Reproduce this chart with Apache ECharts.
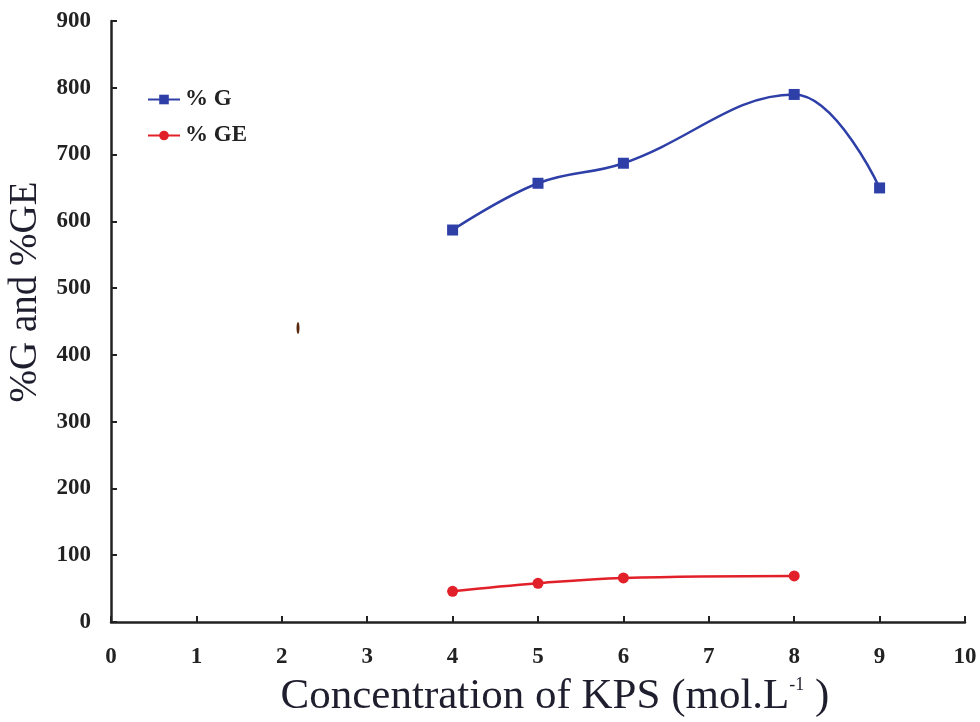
<!DOCTYPE html>
<html>
<head>
<meta charset="utf-8">
<script src="https://cdn.jsdelivr.net/npm/echarts@6/dist/echarts.min.js"></script>
<style>
  html, body { margin: 0; padding: 0; background: #fff; }
  #chart { width: 980px; height: 722px; }
</style>
</head>
<body>
<div id="chart"></div>
<script>
// KPS concentration (x) and the two measured series
const gX = [4, 5, 6, 8, 9];
const gValues = [587, 657, 687, 790, 650];
const geX = [4, 5, 6, 8];
const geValues = [46, 58, 66, 69];

const xTicks = [0, 1, 2, 3, 4, 5, 6, 7, 8, 9, 10];
const yTicks = [0, 100, 200, 300, 400, 500, 600, 700, 800, 900];

const serif = '"Liberation Serif", "DejaVu Serif", serif';

const chart = echarts.init(document.getElementById('chart'));

const option = {
  animation: false,
  backgroundColor: '#fff',
  grid: { left: 111, top: 21, right: 15, bottom: 100 },
  legend: {
    left: 147,
    top: 88,
    padding: 0,
    orient: 'vertical',
    itemGap: 13,
    itemWidth: 32,
    itemHeight: 12,
    textStyle: { fontFamily: serif, fontWeight: 'bold', fontSize: 23, color: '#222' },
    data: ['% G', '% GE']
  },
  xAxis: {
    type: 'value',
    min: xTicks[0],
    max: xTicks[xTicks.length - 1],
    interval: 1,
    axisLine: { lineStyle: { color: '#222', width: 2.5 } },
    axisTick: { inside: true, length: 6, lineStyle: { color: '#222', width: 2 } },
    splitLine: { show: false },
    axisLabel: { fontFamily: serif, fontWeight: 'bold', fontSize: 23, color: '#222', margin: 24 }
  },
  yAxis: {
    type: 'value',
    min: yTicks[0],
    max: yTicks[yTicks.length - 1],
    interval: 100,
    axisLine: { show: true, lineStyle: { color: '#222', width: 2.5 } },
    axisTick: { show: true, inside: true, length: 6, lineStyle: { color: '#222', width: 2 } },
    splitLine: { show: false },
    axisLabel: { fontFamily: serif, fontWeight: 'bold', fontSize: 23, color: '#222', margin: 20 }
  },
  graphic: [
    {
      type: 'text',
      x: 26, y: 292,
      rotation: Math.PI / 2,
      style: {
        text: '%G and %GE', font: '39px ' + serif, fill: '#1e1e2e',
        textAlign: 'center', textVerticalAlign: 'middle'
      }
    },
    {
      type: 'text',
      x: 555, y: 697,
      style: {
        text: 'Concentration of KPS (mol.L{sup|-1} )',
        font: '43px ' + serif,
        fill: '#1e1e2e',
        textAlign: 'center', textVerticalAlign: 'middle',
        rich: { sup: { fontSize: 18, fontFamily: serif, fill: '#1e1e2e', padding: [0, 0, 24, 0] } }
      }
    },
    {
      type: 'ellipse',
      shape: { cx: 298, cy: 328, rx: 1.5, ry: 6 },
      style: { fill: '#5a2a10' }
    }
  ],
  series: [
    {
      name: '% G',
      type: 'line',
      smooth: 0.4,
      data: gX.map((x, i) => [x, gValues[i]]),
      symbol: 'rect',
      symbolSize: 11,
      lineStyle: { color: '#2e3fa8', width: 2.5 },
      itemStyle: { color: '#2e3fa8' }
    },
    {
      name: '% GE',
      type: 'line',
      smooth: 0.4,
      data: geX.map((x, i) => [x, geValues[i]]),
      symbol: 'circle',
      symbolSize: 11,
      lineStyle: { color: '#e2202a', width: 2.5 },
      itemStyle: { color: '#e2202a' }
    }
  ]
};

chart.setOption(option);
</script>
</body>
</html>
